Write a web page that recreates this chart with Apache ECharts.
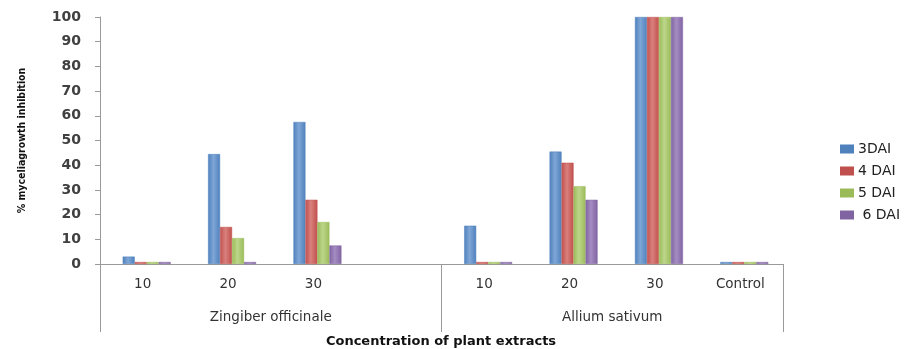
<!DOCTYPE html>
<html><head><meta charset="utf-8">
<script src="https://cdn.jsdelivr.net/npm/echarts@6/dist/echarts.min.js"></script>
<style>html,body{margin:0;padding:0;background:#fff}#c{width:905px;height:349px}</style>
</head><body><div id="c"></div>
<script>
const categories = ['10', '20', '30', '', '10', '20', '30', 'Control'];
const groups = ['Zingiber officinale', 'Allium sativum'];
const seriesNames = ['3DAI', '4 DAI', '5 DAI', ' 6 DAI'];
const dai3 = [3, 44.5, 57.5, null, 15.5, 45.5, 100, 0];
const dai4 = [0, 15, 26, null, 0, 41, 100, 0];
const dai5 = [0, 10.5, 17, null, 0, 31.5, 100, 0];
const dai6 = [0, 0, 7.5, null, 0, 26, 100, 0];
const yTicks = [0, 10, 20, 30, 40, 50, 60, 70, 80, 90, 100];
const colors = ['#4F81BD', '#C0504D', '#9BBB59', '#8064A2'];
const light = ['#7FA6D6', '#D9807D', '#BCD68A', '#A58CC2'];

function grad(i) {
  return new echarts.graphic.LinearGradient(0, 0, 1, 0, [
    {offset: 0, color: colors[i]},
    {offset: 0.45, color: light[i]},
    {offset: 1, color: colors[i]}
  ]);
}
const data = [dai3, dai4, dai5, dai6];
const chart = echarts.init(document.getElementById('c'));
chart.setOption({
  animation: false,
  textStyle: {fontFamily: 'DejaVu Sans'},
  grid: [
    {left: 100, right: 122, top: 17, bottom: 85},
    {left: 104, right: 118, top: 17, bottom: 85}
  ],
  legend: {
    orient: 'vertical', left: 835, top: 137, itemWidth: 12, itemHeight: 7, itemGap: 8, icon: 'rect',
    textStyle: {fontSize: 14, color: '#222', fontFamily: 'DejaVu Sans'},
    data: seriesNames.map((n, i) => ({name: n, itemStyle: {color: colors[i]}}))
  },
  title: {
    text: 'Concentration of plant extracts', left: 441, top: 335, textAlign: 'center', padding: 0,
    textStyle: {fontSize: 13, fontWeight: 'bold', color: '#111', fontFamily: 'DejaVu Sans'}
  },
  xAxis: [
    {
      type: 'category', data: categories, position: 'bottom', gridIndex: 0,
      axisLine: {show: true, lineStyle: {color: '#9a9a9a'}},
      axisTick: {show: false},
      axisLabel: {margin: 13, fontSize: 13.5, color: '#333'}
    },
    {
      type: 'category', data: groups, position: 'bottom', gridIndex: 0,
      axisLine: {show: false},
      axisTick: {show: true, length: 68, alignWithLabel: false, lineStyle: {color: '#9a9a9a'}},
      axisLabel: {margin: 46, fontSize: 13.5, color: '#333'}
    },
    {
      type: 'category', data: categories, gridIndex: 1, show: false
    }
  ],
  yAxis: [
    {
      type: 'value', min: 0, max: 100, interval: 10, gridIndex: 0,
      name: '% myceliagrowth inhibition', nameLocation: 'middle', nameGap: 72, nameRotate: 90,
      nameTextStyle: {fontSize: 10.5, fontWeight: 'bold', color: '#111', fontFamily: 'DejaVu Sans Condensed'},
      axisLine: {show: true, lineStyle: {color: '#9a9a9a'}},
      axisTick: {show: true, length: 5, lineStyle: {color: '#9a9a9a'}},
      splitLine: {show: false},
      axisLabel: {fontSize: 14, fontWeight: 'bold', color: '#404040', fontFamily: 'DejaVu Sans', margin: 19,
        formatter: v => yTicks.includes(v) ? String(v) : ''}
    },
    {
      type: 'value', min: 0, max: 100, interval: 10, gridIndex: 1, show: false
    }
  ],
  series: data.map((d, i) => ({
    name: seriesNames[i], type: 'bar', data: d, xAxisIndex: 2, yAxisIndex: 1,
    barWidth: 12, barGap: '0%', barMinHeight: 2,
    itemStyle: {color: grad(i), borderColor: colors[i], borderWidth: 0.5}
  }))
});
</script></body></html>
